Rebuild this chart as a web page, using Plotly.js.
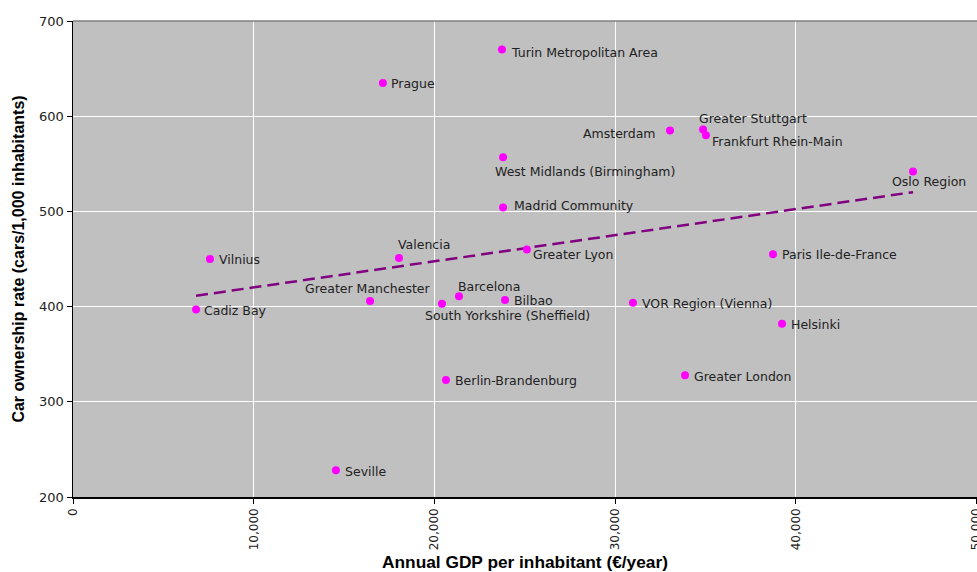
<!DOCTYPE html>
<html>
<head>
<meta charset="utf-8">
<script src="https://cdn.plot.ly/plotly-3.0.1.min.js"></script>
<style>html,body{margin:0;padding:0;background:#fff;}#chart{width:977px;height:572px;}</style>
</head>
<body>
<div id="chart"></div>
<script>
// ---- data ----
const regions = ["Turin Metropolitan Area","Prague","Amsterdam","Greater Stuttgart","Frankfurt Rhein-Main",
  "West Midlands (Birmingham)","Oslo Region","Madrid Community","Greater Lyon","Valencia","Vilnius",
  "Paris Ile-de-France","Greater Manchester","Barcelona","South Yorkshire (Sheffield)","Bilbao",
  "VOR Region (Vienna)","Cadiz Bay","Helsinki","Greater London","Berlin-Brandenburg","Seville"];
const gdp = [23740,17150,33040,34870,35030,23800,46490,23800,25120,18040,7580,
  38740,16440,21360,20420,23910,30990,6810,39240,33870,20640,14550];
const carRate = [670,635,585,586,580,557,542,504,460,451,450,
  455,406,411,403,407,404,397,382,328,323,228];
const xTicks = [0,10000,20000,30000,40000,50000];
const yTicks = [200,300,400,500,600,700];

// ---- label placement (style: xanchor, xshift, yshift) ----
const labelStyle = [
  ["left",8,-3],["left",7,-1],["right",-13,-3],["left",-5,11],["left",5,-6],
  ["left",-9,-14],["left",-22,-10],["left",10,2],["left",5,-5],["left",-2,14],["left",8,0],
  ["left",8,0],["center",-2,12],["left",-2,10],["left",-18,-12],["left",8,-1],
  ["left",8,-1],["left",7,-1],["left",8,-1],["left",8,-1],["left",8,-1],["left",8,-1]];

// ---- linear trend computed from the data ----
const n = gdp.length;
const mx = gdp.reduce((a,b)=>a+b,0)/n, my = carRate.reduce((a,b)=>a+b,0)/n;
let sxy=0, sxx=0;
for (let i=0;i<n;i++){ sxy+=(gdp[i]-mx)*(carRate[i]-my); sxx+=(gdp[i]-mx)**2; }
const slope = sxy/sxx, icpt = my - slope*mx;
const tx = [Math.min(...gdp), Math.max(...gdp)];
const ty = tx.map(x=>icpt+slope*x);

const labelFont = {family:"DejaVu Sans, Verdana, sans-serif", size:12.5, color:"#222"};
const annotations = regions.map((r,i)=>({
  x: gdp[i], y: carRate[i], xref:"x", yref:"y", text: r, showarrow:false,
  xanchor: labelStyle[i][0], yanchor:"middle", xshift: labelStyle[i][1], yshift: labelStyle[i][2],
  font: labelFont, borderpad:0
}));

const traces = [
  {x: tx, y: ty, mode:"lines", line:{color:"#800080", width:2.5, dash:"12px,6px"}, hoverinfo:"skip"},
  {x: gdp, y: carRate, mode:"markers", marker:{color:"#ff00ff", size:8}, text: regions}
];

const layout = {
  width:977, height:572, showlegend:false,
  margin:{l:73, r:0, t:21, b:75, pad:0},
  paper_bgcolor:"#fff", plot_bgcolor:"#c0c0c0",
  xaxis:{range:[0,50030], tickvals:xTicks, tickformat:",d", tickangle:-90, ticklabeloverflow:"allow",
    showgrid:true, gridcolor:"#fff", gridwidth:1, zeroline:false,
    showline:true, linecolor:"#000", linewidth:1.5, ticks:"outside", ticklen:5, tickcolor:"#000",
    tickfont:{family:"DejaVu Sans, Verdana, sans-serif", size:12, color:"#222"},
    title:{text:"Annual GDP per inhabitant (€/year)", font:{family:"Liberation Sans, Arial, sans-serif", size:17.3, color:"#000", weight:"bold"}, standoff:8},
    automargin:false, fixedrange:true},
  yaxis:{range:[200,700], tickvals:yTicks,
    showgrid:true, gridcolor:"#fff", gridwidth:1, zeroline:false,
    showline:true, linecolor:"#000", linewidth:1.5, ticks:"outside", ticklen:5, tickcolor:"#000",
    tickfont:{family:"DejaVu Sans, Verdana, sans-serif", size:13, color:"#222"},
    title:{text:"Car ownership rate (cars/1,000 inhabitants)", font:{family:"Liberation Sans, Arial, sans-serif", size:16, color:"#000", weight:"bold"}, standoff:10},
    automargin:false, fixedrange:true},
  shapes:[{type:"line", xref:"paper", yref:"paper", x0:0, x1:1, y0:1, y1:1, line:{color:"#808080", width:1.5}, layer:"above"}],
  annotations: annotations
};

Plotly.newPlot("chart", traces, layout, {displayModeBar:false, staticPlot:true});
</script>
</body>
</html>
